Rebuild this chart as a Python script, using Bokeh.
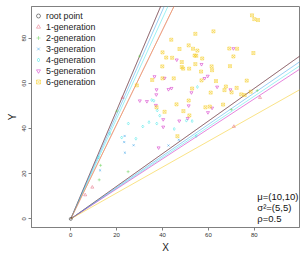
from bokeh.plotting import figure
from bokeh.models import Range1d, FixedTicker, Legend, LegendItem, Label
from bokeh.embed import file_html
from bokeh.resources import INLINE

FONT = "Liberation Sans"

# ---- data -------------------------------------------------------------
gen_names = ["root point", "1-generation", "2-generation", "3-generation",
             "4-generation", "5-generation", "6-generation"]
gen_colors = ["#000000", "#DF536B", "#61D04F", "#2297E6", "#28E2E5", "#CD0BBC", "#F5C710"]
gen_markers = ["circle", "triangle", "cross", "x", "diamond", "inverted_triangle", "square_x"]

root_x = [0.0]
root_y = [0.0]

g1_x = [6.3, 9.4, 22.6, 82.5, 71.1]
g1_y = [10.6, 14.0, 53.7, 53.7, 40.9]

g2_x = [12.4, 13.0, 25.0, 20.1, 30.0, 81.3, 70.0]
g2_y = [17.3, 23.7, 20.9, 47.7, 72.0, 56.8, 48.4]

g3_x = [12.8, 23.3, 23.6, 27.4, 23.5, 42.6, 47.1]
g3_y = [21.5, 34.0, 29.3, 32.6, 36.7, 32.5, 35.0]

g4_x = [12.0, 17.0, 22.2, 28.4, 25.1, 31.4, 34.1, 37.5, 38.8, 45.1, 35.3, 36.2,
        37.7, 50.4, 52.9, 54.7, 55.2]
g4_y = [27.2, 37.7, 36.0, 35.5, 42.2, 40.9, 42.8, 42.2, 45.7, 39.8, 52.6, 52.3,
        48.0, 43.5, 43.3, 36.7, 58.4]

g5_x = [30.1, 33.2, 37.4, 37.3, 42.6, 43.9, 37.1, 40.3, 40.3, 38.3, 47.3, 51.0,
        51.4, 52.6, 58.3, 59.7, 61.6, 59.8, 63.8, 69.6, 70.9, 46.2, 36.5, 40.9, 57.0]
g5_y = [52.3, 52.0, 57.2, 55.0, 57.3, 57.8, 50.3, 44.0, 40.7, 31.5, 43.4, 44.5,
        50.1, 55.9, 62.2, 63.2, 49.1, 47.1, 58.4, 57.2, 75.4, 70.4, 63.0, 62.3, 68.4]

g6_x = [79.0, 80.0, 81.6, 54.3, 62.2, 43.8, 51.4, 47.4, 53.3, 55.2, 69.1, 72.5,
        40.0, 79.6, 54.0, 54.7, 70.9, 41.6, 44.2, 57.3, 48.4, 54.3, 61.4, 39.9,
        48.4, 49.0, 51.6, 69.4, 61.6, 56.8, 28.8, 35.5, 40.0, 44.9, 57.0, 63.3,
        76.7, 67.6, 72.3, 52.9, 67.0, 70.1, 74.3, 75.8, 78.4, 51.4, 46.1, 49.1,
        58.7, 60.6, 66.4, 40.9, 37.4, 51.7, 46.5, 61.0]
g6_y = [90.1, 88.4, 88.0, 81.9, 83.0, 79.3, 76.8, 75.2, 75.3, 74.5, 75.4, 75.3,
        73.7, 73.4, 72.3, 72.2, 71.9, 71.4, 71.3, 71.0, 69.4, 68.5, 67.5, 67.5,
        67.2, 66.5, 66.5, 67.6, 65.8, 65.2, 59.1, 61.5, 62.2, 62.2, 61.3, 61.0,
        61.2, 58.6, 58.0, 57.7, 57.0, 56.0, 55.1, 54.8, 56.3, 52.4, 50.7, 47.7,
        49.4, 49.7, 50.6, 47.4, 49.4, 45.8, 36.6, 55.9]

all_x = [root_x, g1_x, g2_x, g3_x, g4_x, g5_x, g6_x]
all_y = [root_y, g1_y, g2_y, g3_y, g4_y, g5_y, g6_y]

# boundary rays from the origin (slopes), per generation group
line_colors = ["#DF536B", "#000000", "#2297E6", "#28E2E5", "#CD0BBC", "#F5C710"]
line_alphas = [0.4, 0.4, 0.45, 0.45, 0.5, 0.5]
line_upper_slope = [2.40, 2.40, 2.31, 2.22, 2.09, 2.09]
line_lower_slope = [0.722, 0.722, 0.697, 0.679, 0.664, 0.573]

x_ticks = [0, 20, 40, 60, 80]
y_ticks = [0, 20, 40, 60, 80]

ann_texts = ["\u03bc=(10,10)", "\u03c3\u00b2=(5,5)", "\u03c1=0.5"]

# ---- figure -----------------------------------------------------------
p = figure(width=306, height=255, x_range=Range1d(-17.1, 99.7),
           y_range=Range1d(-3.8, 94.0), output_backend="svg",
           toolbar_location=None, min_border_left=31, min_border_right=7,
           min_border_top=6, min_border_bottom=24)
p.xgrid.visible = False
p.ygrid.visible = False
p.outline_line_color = "#808080"
p.outline_line_width = 1
p.background_fill_color = "white"
p.border_fill_color = "white"

for ax, ticks, lab in ((p.xaxis, x_ticks, "X"), (p.yaxis, y_ticks, "Y")):
    ax.ticker = FixedTicker(ticks=ticks)
    ax.minor_tick_line_color = None
    ax.major_tick_in = 0
    ax.major_tick_out = 3
    ax.axis_line_color = "#808080"
    ax.major_tick_line_color = "#808080"
    ax.major_label_text_font = FONT
    ax.major_label_text_font_size = "6px"
    ax.major_label_text_color = "#333333"
    ax.major_label_standoff = 2
    ax.axis_label = lab
    ax.axis_label_text_font = FONT
    ax.axis_label_text_font_size = "10px"
    ax.axis_label_text_font_style = "normal"
    ax.axis_label_text_color = "#222222"
    ax.axis_label_standoff = 2
p.yaxis.major_label_orientation = "vertical"

# rays
for c, a, su, sl in zip(line_colors, line_alphas, line_upper_slope, line_lower_slope):
    p.line([0, 100], [0, su * 100], line_color=c, line_alpha=a, line_width=1)
    p.line([0, 100], [0, sl * 100], line_color=c, line_alpha=a, line_width=1)

# points
items = []
for name, col, mk, xs, ys in zip(gen_names, gen_colors, gen_markers, all_x, all_y):
    r = p.scatter(xs, ys, marker=mk, size=3.0, line_color=col, line_alpha=0.5,
                  fill_color=None, line_width=0.9)
    items.append(LegendItem(label=name, renderers=[r]))

legend = Legend(items=items, location=(2, 140), border_line_color=None,
                background_fill_alpha=0, label_text_font=FONT,
                label_text_font_size="8.8px", label_text_color="#222222",
                label_height=10, glyph_height=11, glyph_width=10, spacing=0,
                padding=2, margin=0, label_standoff=3)
p.add_layout(legend)

for txt, yy in zip(ann_texts, [9.9, 5.1, 0.35]):
    p.add_layout(Label(x=81.3, y=yy, text=txt, text_font=FONT,
                       text_font_size="9.5px", text_baseline="middle",
                       text_align="left", text_color="#111111"))

open("out.html", "w").write(file_html(p, INLINE))
